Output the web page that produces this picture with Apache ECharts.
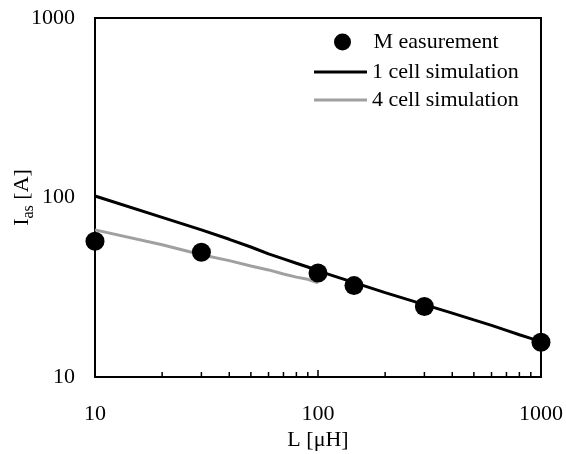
<!DOCTYPE html>
<html>
<head>
<meta charset="utf-8">
<script src="https://cdn.jsdelivr.net/npm/echarts@6/dist/echarts.min.js"></script>
<style>
  html, body { margin: 0; padding: 0; background: #fff; }
  #chart { width: 566px; height: 454px; }
</style>
</head>
<body>
<div id="chart"></div>
<script>
// Inductance L [µH] and measured peak current Ias [A]
const measL = [10, 30, 100, 145, 300, 1000];
const measI = [57, 49.5, 38, 32.3, 24.7, 15.6];

// 1 cell simulation
const sim1L = [10, 20, 30, 40, 50, 60, 70, 80, 90, 100, 200, 300, 400, 500, 600, 700, 800, 900, 1000];
const sim1I = [102, 77.5, 66, 58.5, 53, 48.5, 45.5, 43, 41, 39, 29.5, 25.3, 22.7, 20.8, 19.4, 18.2, 17.2, 16.4, 15.7];

// 4 cell simulation
const sim4L = [10, 20, 30, 40, 50, 60, 70, 80, 90, 100];
const sim4I = [66, 54.5, 48, 44.5, 41.5, 39.5, 37.5, 36, 35, 33.5];

// Minor tick values on the L axis
const minorTicksL = [20, 30, 40, 50, 60, 70, 80, 90, 200, 300, 400, 500, 600, 700, 800, 900];

const FONT = 'Liberation Serif';
const FS = 22;
const zip = (xs, ys) => xs.map((x, i) => [x, ys[i]]);
const plain = v => String(v);

const chart = echarts.init(document.getElementById('chart'));
chart.setOption({
  animation: false,
  backgroundColor: '#fff',
  textStyle: { fontFamily: FONT, color: '#000' },
  grid: {
    left: 95, right: 25, top: 18, bottom: 77,
    containLabel: false, outerBoundsMode: 'none',
    show: true, borderColor: '#000', borderWidth: 2, backgroundColor: 'transparent'
  },
  legend: [
    {
      data: [{ name: 'M easurement', icon: 'circle' }],
      orient: 'vertical', left: 329, top: 26, padding: 5,
      itemWidth: 52, itemHeight: 17,
      textStyle: { fontFamily: FONT, fontSize: FS, color: '#000' },
      selectedMode: false
    },
    {
      data: [
        { name: '1 cell simulation', icon: 'rect' },
        { name: '4 cell simulation', icon: 'rect' }
      ],
      orient: 'vertical', left: 309, top: 56, padding: 5,
      itemWidth: 53, itemHeight: 3, itemGap: 6,
      textStyle: { fontFamily: FONT, fontSize: FS, color: '#000' },
      selectedMode: false
    }
  ],
  xAxis: {
    type: 'log', logBase: 10, min: 10, max: 1000,
    name: 'L [μH]', nameLocation: 'middle', nameGap: 52, nameMoveOverlap: false,
    nameTextStyle: { fontFamily: FONT, fontSize: FS, color: '#000' },
    axisLine: { lineStyle: { color: '#000', width: 2 } },
    axisTick: { show: true, inside: true, length: 7, lineStyle: { color: '#000', width: 1.5 } },
    axisLabel: { fontFamily: FONT, fontSize: FS, color: '#000', margin: 26, formatter: plain },
    splitLine: { show: false }
  },
  yAxis: {
    type: 'log', logBase: 10, min: 10, max: 1000,
    name: '{m|I}{s|as}{m| [A]}', nameLocation: 'middle', nameGap: 58, nameRotate: 90, nameMoveOverlap: false,
    nameTextStyle: {
      fontFamily: FONT, fontSize: FS, color: '#000',
      rich: {
        m: { fontFamily: FONT, fontSize: FS, color: '#000', verticalAlign: 'bottom', padding: [0, 0, 4, 0] },
        s: { fontFamily: FONT, fontSize: 16, color: '#000', verticalAlign: 'bottom' }
      }
    },
    axisLine: { lineStyle: { color: '#000', width: 2 } },
    axisTick: { show: false },
    axisLabel: { fontFamily: FONT, fontSize: FS, color: '#000', margin: 20, formatter: plain },
    splitLine: { show: false }
  },
  series: [
    {
      name: 'minor ticks',
      type: 'custom',
      silent: true,
      data: minorTicksL.map(v => [v, 10]),
      renderItem: function (params, api) {
        const p = api.coord([api.value(0), api.value(1)]);
        return {
          type: 'line',
          shape: { x1: p[0], y1: p[1], x2: p[0], y2: p[1] - 5 },
          style: { stroke: '#000', lineWidth: 1.5 }
        };
      },
      z: 1
    },
    {
      name: '4 cell simulation',
      type: 'line',
      data: zip(sim4L, sim4I),
      symbol: 'none',
      lineStyle: { color: '#a0a0a0', width: 3 },
      itemStyle: { color: '#a0a0a0' },
      z: 2
    },
    {
      name: '1 cell simulation',
      type: 'line',
      data: zip(sim1L, sim1I),
      symbol: 'none',
      lineStyle: { color: '#000', width: 3 },
      itemStyle: { color: '#000' },
      z: 3
    },
    {
      name: 'M easurement',
      type: 'scatter',
      data: zip(measL, measI),
      symbol: 'circle',
      symbolSize: 19,
      itemStyle: { color: '#000', opacity: 1 },
      z: 4
    }
  ]
});
</script>
</body>
</html>
